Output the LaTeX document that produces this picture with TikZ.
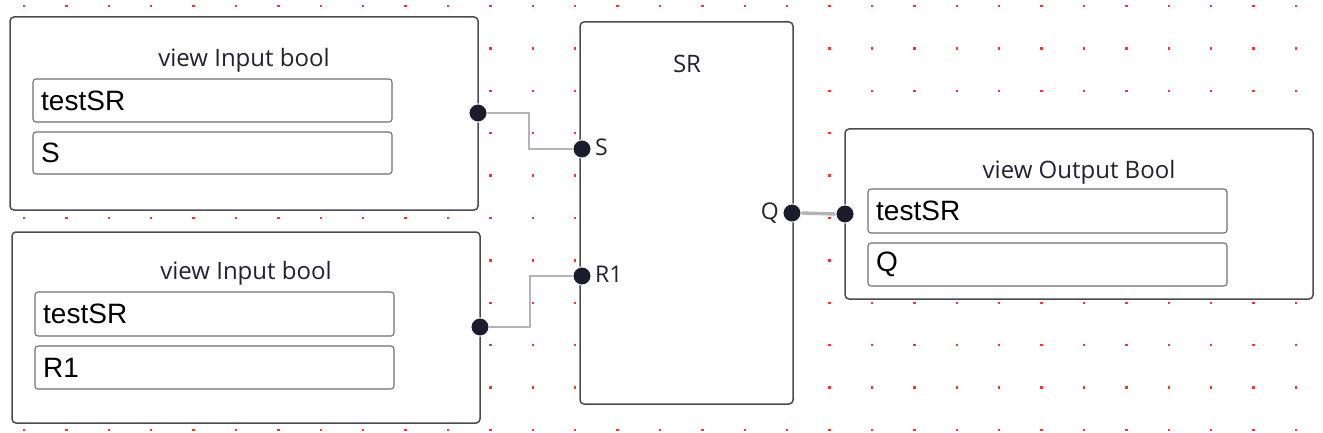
\documentclass[tikz,border=0pt]{standalone}
\usepackage{fontspec}
\setmainfont{Open Sans}
\newfontfamily\fieldfont{Liberation Sans}
\definecolor{boxline}{HTML}{4A4A55}
\definecolor{fieldline}{HTML}{707070}
\definecolor{portfill}{HTML}{1B1B2C}
\definecolor{wire}{HTML}{B4B4B8}
\definecolor{griddot}{HTML}{FF3030}
\definecolor{titletext}{HTML}{222233}
\begin{document}
\begin{tikzpicture}[x=1pt,y=-1pt,
  blockbox/.style={draw=boxline,line width=1.5pt,fill=white,rounded corners=4pt},
  fieldbox/.style={draw=fieldline,line width=1.1pt,fill=white,rounded corners=3pt},
  titlelabel/.style={font=\fontsize{24}{28}\selectfont,text=titletext,inner sep=0pt},
  fieldlabel/.style={font=\fieldfont\fontsize{28}{32}\selectfont,text=black,inner sep=0pt,anchor=west},
  portdot/.style={circle,fill=portfill,draw=white,line width=0.8pt,minimum size=18pt,inner sep=0pt},
  portlabel/.style={font=\fontsize{23}{26}\selectfont,text=titletext,inner sep=0pt},
  wireline/.style={draw=wire,line width=2.4pt},
]
\useasboundingbox (0,0) rectangle (1323,433);
\fill[white] (0,0) rectangle (1323,433);
% grid dots
\foreach \i in {0,...,30} {
  \foreach \j in {0,...,10} {
    \fill[griddot] ({24+42.4*\i-1.2},{6+42.4*\j-1.2}) rectangle ++(2.4,2.4);
  }
}
% input block 1
\path[blockbox] (10,17) rectangle (478,210);
\node[titlelabel] (t1) at (244,60) {view Input bool};
\path[fieldbox] (33,79) rectangle (392,122);
\node[fieldlabel] (f1a) at (41,100.5) {testSR};
\path[fieldbox] (33,132) rectangle (392,174);
\node[fieldlabel] (f1b) at (41,153) {S};
% input block 2
\path[blockbox] (12,232) rectangle (480,423);
\node[titlelabel] (t2) at (246,273) {view Input bool};
\path[fieldbox] (35,292) rectangle (394,336);
\node[fieldlabel] (f2a) at (43,314) {testSR};
\path[fieldbox] (35,346) rectangle (394,389);
\node[fieldlabel] (f2b) at (43,367.5) {R1};
% SR block
\path[blockbox] (580,22) rectangle (793,404);
\node[titlelabel] (tsr) at (687,64) {SR};
% output block
\path[blockbox] (845,129) rectangle (1313,299);
\node[titlelabel] (t3) at (1079,172) {view Output Bool};
\path[fieldbox] (868,189) rectangle (1227,233);
\node[fieldlabel] (f3a) at (876,211) {testSR};
\path[fieldbox] (868,243) rectangle (1227,286);
\node[fieldlabel] (f3b) at (876,264.5) {Q};
% wires
\coordinate (b1) at (529,113);
\coordinate (b2) at (530,327);
\node[portdot] (in1) at (478,113) {};
\node[portdot] (in2) at (480,327) {};
\node[portdot] (ps) at (582,149) {};
\node[portdot] (pr) at (582,276) {};
\node[portdot] (pq) at (792,213) {};
\node[portdot] (po) at (845,214) {};
\draw[wireline] (in1.east) -- (b1) |- (ps.west);
\draw[wireline] (in2.east) -| (b2) |- (pr.west);
\draw[wireline,line width=3.4pt] (pq.east) -- (po.west);
\node[portdot] at (in1) {};
\node[portdot] at (in2) {};
\node[portdot] at (ps) {};
\node[portdot] at (pr) {};
\node[portdot] at (pq) {};
\node[portdot] at (po) {};
\node[portlabel,anchor=west] (ls) at (595,147) {S};
\node[portlabel,anchor=west] (lr) at (595,274) {R1};
\node[portlabel,anchor=east] (lq) at (779,213) {Q};
\end{tikzpicture}
\end{document}
